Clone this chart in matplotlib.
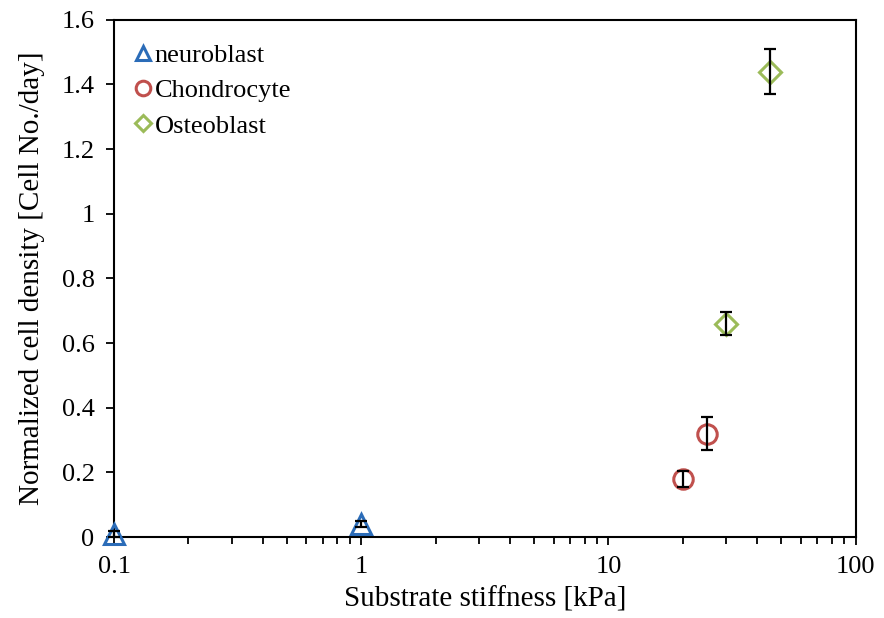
import matplotlib.pyplot as plt
from matplotlib.ticker import FixedLocator, LogLocator, NullFormatter

plt.rcParams['font.family'] = ['Liberation Serif', 'DejaVu Serif']

# stiffness [kPa], normalized density, error
neuro_x = [0.1, 1]
neuro_y = [0.01, 0.04]
neuro_err = [0.01, 0.01]

chondro_x = [20, 25]
chondro_y = [0.18, 0.32]
chondro_err = [0.025, 0.05]

osteo_x = [30, 45]
osteo_y = [0.66, 1.44]
osteo_err = [0.035, 0.07]

xticks = [0.1, 1, 10, 100]
xtick_labels = ['0.1', '1', '10', '100']
yticks = [0, 0.2, 0.4, 0.6, 0.8, 1, 1.2, 1.4, 1.6]
ytick_labels = ['0', '0.2', '0.4', '0.6', '0.8', '1', '1.2', '1.4', '1.6']

fig = plt.figure(figsize=(8.84, 6.18), dpi=100)
ax = fig.add_axes([0.129, 0.131, 0.839, 0.837])

series = [
    (neuro_x, neuro_y, neuro_err, '^', '#2b6cb8', 'neuroblast'),
    (chondro_x, chondro_y, chondro_err, 'o', '#c0504d', 'Chondrocyte'),
    (osteo_x, osteo_y, osteo_err, 'D', '#9bbb59', 'Osteoblast'),
]
for xs, ys, errs, m, c, lab in series:
    ms = 11 if m == 'D' else 14
    ax.plot(xs, ys, linestyle='none', marker=m, markersize=ms,
            markerfacecolor='none', markeredgecolor=c, markeredgewidth=2.2,
            label=lab, zorder=3, clip_on=False)
    ax.errorbar(xs, ys, yerr=errs, fmt='none', ecolor='black',
                elinewidth=1.6, capsize=4, capthick=1.6, zorder=4, clip_on=False)

ax.set_xscale('log')
ax.set_xlim(0.1, 100)
ax.set_ylim(0, 1.6)
ax.xaxis.set_major_locator(FixedLocator(xticks))
ax.set_xticklabels(xtick_labels)
ax.xaxis.set_minor_locator(LogLocator(base=10, subs=range(2, 10)))
ax.xaxis.set_minor_formatter(NullFormatter())
ax.set_yticks(yticks)
ax.set_yticklabels(ytick_labels)

ax.tick_params(axis='both', which='major', direction='out', length=6,
               width=1.3, labelsize=19, pad=8)
ax.tick_params(axis='x', which='minor', direction='out', length=5, width=1.3)
for sp in ax.spines.values():
    sp.set_linewidth(1.5)

ax.set_xlabel('Substrate stiffness [kPa]', fontsize=21, labelpad=6)
ax.set_ylabel('Normalized cell density [Cell No./day]', fontsize=21, labelpad=12)

ax.legend(loc='upper left', frameon=False, fontsize=19, handletextpad=-0.3,
          markerscale=0.75, borderaxespad=0.5, labelspacing=0.45,
          handlelength=1.5, bbox_to_anchor=(-0.02, 1.0))

fig.savefig('out.png', dpi=100)
